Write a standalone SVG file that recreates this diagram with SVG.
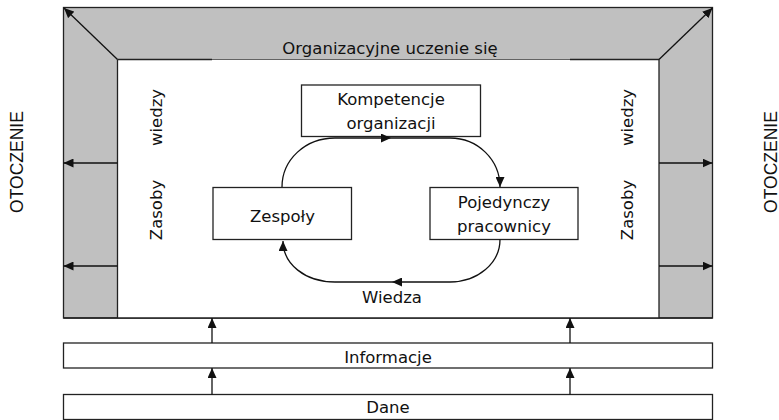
<svg xmlns="http://www.w3.org/2000/svg" width="779" height="420" viewBox="0 0 779 420">
<defs>
<marker id="ah" viewBox="0 0 10 9" refX="10" refY="4.5" markerWidth="10" markerHeight="9" markerUnits="userSpaceOnUse" orient="auto">
<path d="M0,0 L10,4.5 L0,9 z" fill="#111"/>
</marker>
<style>
.t{font-family:"DejaVu Sans","Liberation Sans",sans-serif;font-size:16.5px;fill:#111;text-anchor:middle}
.o{font-family:"Liberation Sans",Arial,sans-serif;font-size:17.5px;fill:#111;text-anchor:middle}
.b{fill:#fff;stroke:#222;stroke-width:1.3}
.c{fill:none;stroke:#111;stroke-width:1.3;marker-end:url(#ah)}
.l{fill:none;stroke:#222;stroke-width:1.3}
</style>
</defs>
<g id="frame">
<rect x="63.5" y="7.5" width="649" height="310.5" fill="#c0c0c0" stroke="#222" stroke-width="1.3"/>
<rect x="117.5" y="59.5" width="541.5" height="258.5" fill="#fff" stroke="none"/>
<path class="l" d="M117.5,59.5 L212,59.5 M570,59.5 L659,59.5 M117.5,59.5 L117.5,318 M659,59.5 L659,318 M63.5,318 L712.5,318"/>
<path d="M212,59.5 L570,59.5" stroke="#555" stroke-width="0.9" fill="none"/>
<text class="t" x="390" y="54">Organizacyjne uczenie się</text>
<text class="t" transform="translate(161.5,117.5) rotate(-90)">wiedzy</text>
<text class="t" transform="translate(161.5,210) rotate(-90)">Zasoby</text>
<text class="t" transform="translate(633,117.5) rotate(-90)">wiedzy</text>
<text class="t" transform="translate(633,210) rotate(-90)">Zasoby</text>
</g>
<g id="otoczenie-left"><text class="o" transform="translate(23,162) rotate(-90)">OTOCZENIE</text></g>
<g id="otoczenie-right"><text class="o" transform="translate(776.5,162) rotate(-90)">OTOCZENIE</text></g>
<g id="kompetencje">
<rect class="b" x="301.5" y="85" width="179" height="51.5"/>
<text class="t" x="391" y="105">Kompetencje</text>
<text class="t" x="391" y="128.5">organizacji</text>
</g>
<g id="zespoly">
<rect class="b" x="213" y="187.5" width="138.5" height="52"/>
<text class="t" x="282.5" y="221.5">Zespoły</text>
</g>
<g id="pojedynczy">
<rect class="b" x="430" y="187.5" width="148" height="52"/>
<text class="t" x="504" y="208">Pojedynczy</text>
<text class="t" x="504" y="232">pracownicy</text>
</g>
<g id="informacje">
<rect class="b" x="63.5" y="343" width="649" height="25"/>
<text class="t" x="388" y="362.5">Informacje</text>
</g>
<g id="dane">
<rect class="b" x="63.5" y="394.5" width="649" height="25"/>
<text class="t" x="388" y="413">Dane</text>
</g>
<g id="wiedza-label"><text class="t" x="392" y="303">Wiedza</text></g>
<g id="connectors">
<path class="c" d="M282,187 C282,160 305,138 335,138 L391,138"/>
<path class="c" d="M391,138 L450,138 C478,138 500,160 500,187"/>
<path class="c" d="M500,239.5 C500,263 478,282 450,282 L392,282"/>
<path class="c" d="M392,282 L335,282 C305,282 283,264 283,241"/>
<path class="c" d="M117.5,59.5 L64,8"/>
<path class="c" d="M659,59.5 L712.5,8"/>
<path class="c" d="M117.5,163 L63.5,163"/>
<path class="c" d="M117.5,266 L63.5,266"/>
<path class="c" d="M659,163 L712.5,163"/>
<path class="c" d="M659,266 L712.5,266"/>
<path class="c" d="M212,343 L212,318"/>
<path class="c" d="M570,343 L570,318"/>
<path class="c" d="M212,394.5 L212,368"/>
<path class="c" d="M570,394.5 L570,368"/>
</g>
</svg>
